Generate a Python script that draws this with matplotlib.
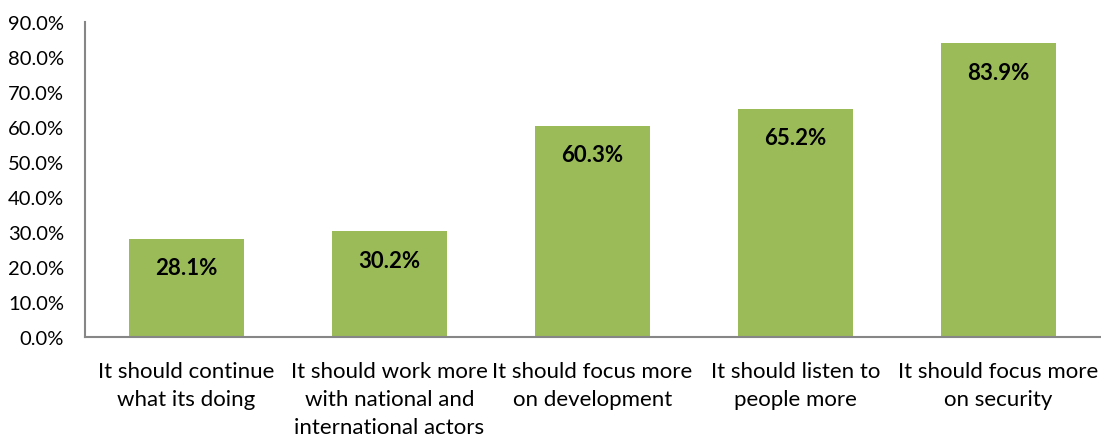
import matplotlib.pyplot as plt
from matplotlib.ticker import FuncFormatter

categories = [
    "It should continue\nwhat its doing",
    "It should work more\nwith national and\ninternational actors",
    "It should focus more\non development",
    "It should listen to\npeople more",
    "It should focus more\non security",
]
values = [28.1, 30.2, 60.3, 65.2, 83.9]

plt.rcParams['font.family'] = ['Lato', 'DejaVu Sans']

fig = plt.figure(figsize=(11.01, 4.35), dpi=100)
ax = fig.add_axes([85 / 1101, 1 - 338 / 435, 1015 / 1101, 315 / 435])

x = range(len(categories))
bars = ax.bar(x, values, width=0.57, color='#9BBB59', zorder=2)

for rect, v in zip(bars, values):
    ax.annotate(f"{v:.1f}%", xy=(rect.get_x() + rect.get_width() / 2, v),
                xytext=(0, -29), textcoords='offset pixels',
                ha='center', va='center', fontsize=16, fontweight='bold')

ax.set_xlim(-0.5, len(categories) - 0.5)
ax.set_ylim(0, 90)
ax.set_yticks(range(0, 91, 10))
ax.yaxis.set_major_formatter(FuncFormatter(lambda v, _: f"{v:.1f}%"))
ax.set_xticks(list(x))
ax.set_xticklabels(categories, fontsize=16, linespacing=1.5)

ax.tick_params(axis='y', length=0, pad=15, labelsize=14.5)
ax.tick_params(axis='x', length=0, pad=17)

for side in ('top', 'right'):
    ax.spines[side].set_visible(False)
for side in ('left', 'bottom'):
    ax.spines[side].set_color('#868686')
    ax.spines[side].set_linewidth(1.5)

fig.savefig('out.png', dpi=100)
